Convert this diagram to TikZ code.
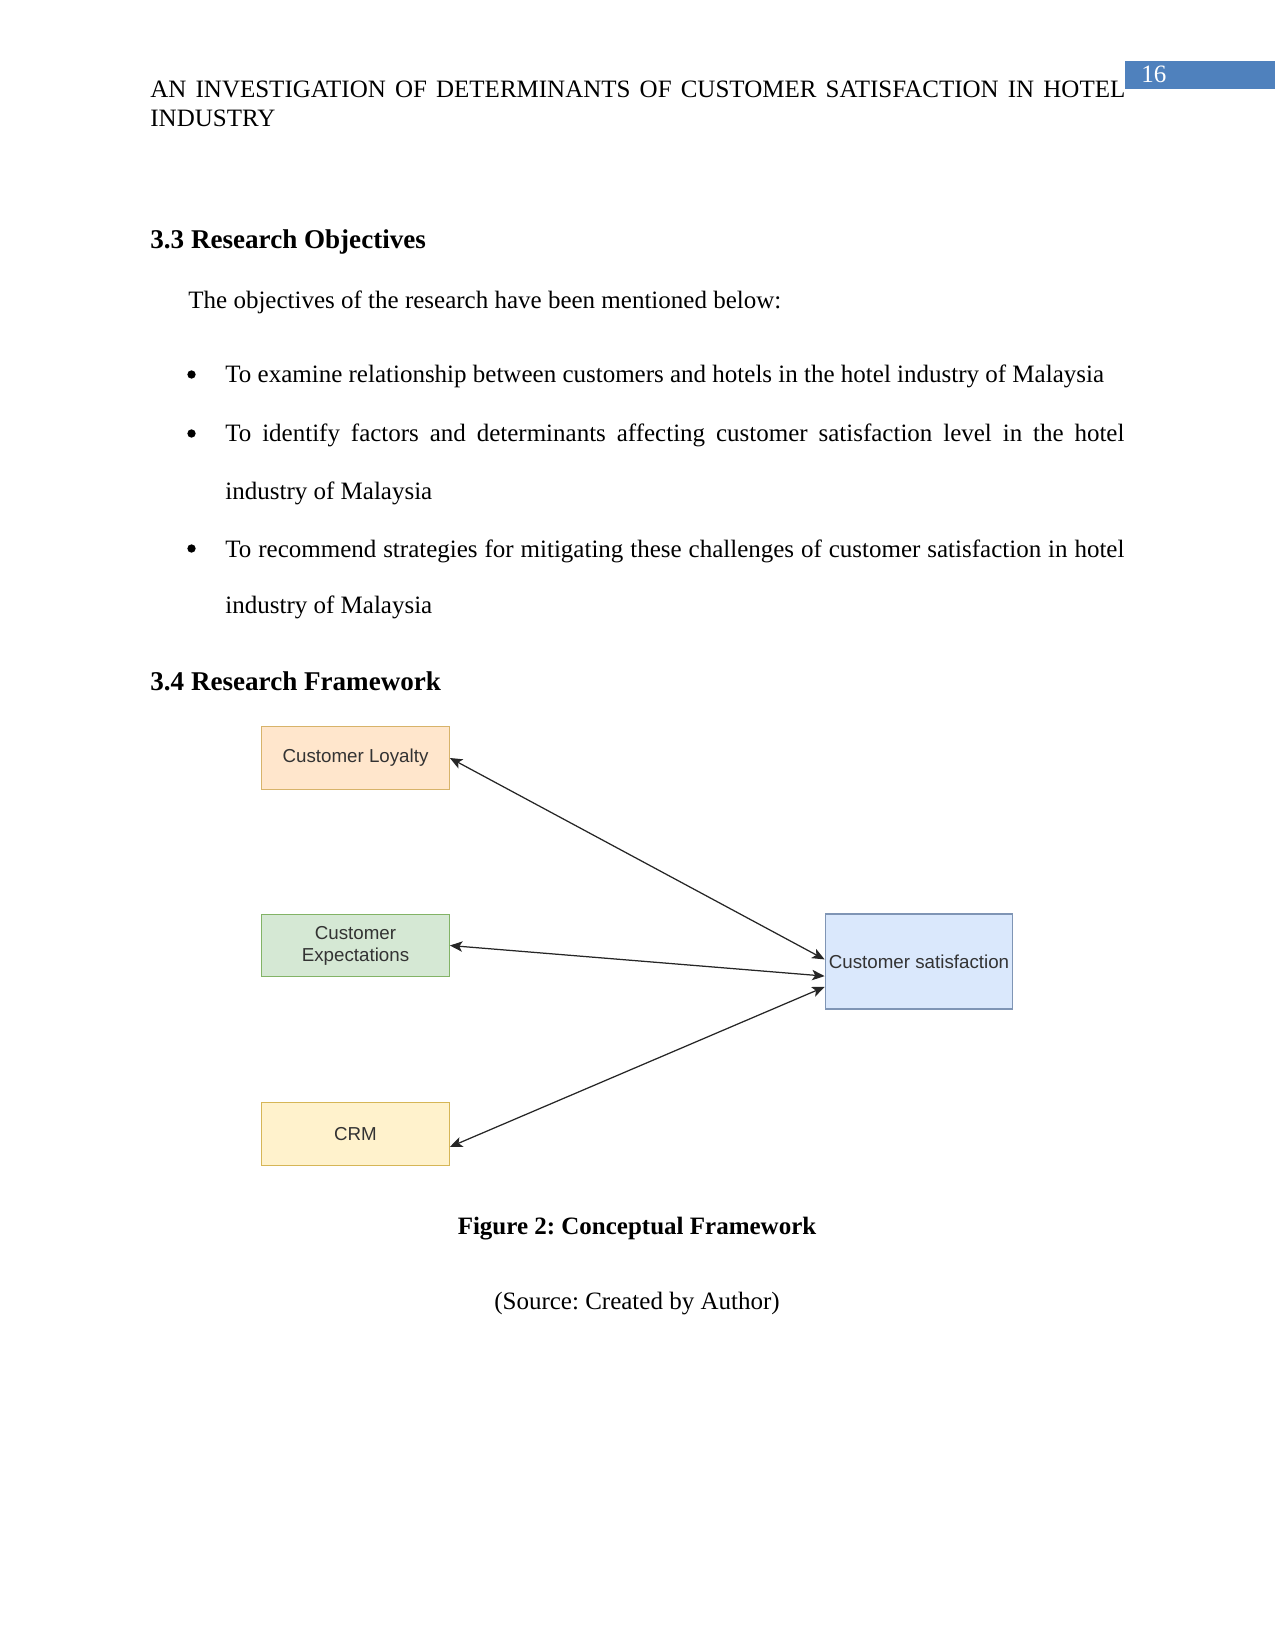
\documentclass[tikz,border=0pt]{standalone}
\usepackage{fontspec}
\setmainfont{Liberation Serif}
\newfontfamily\diagfont{Liberation Sans}
\usetikzlibrary{positioning,arrows.meta}
\definecolor{hdrblue}{HTML}{4F81BD}
\definecolor{orfill}{HTML}{FFE6CC}\definecolor{ordraw}{HTML}{D7B36A}
\definecolor{grfill}{HTML}{D5E8D4}\definecolor{grdraw}{HTML}{82B366}
\definecolor{yefill}{HTML}{FFF2CC}\definecolor{yedraw}{HTML}{D6B656}
\definecolor{blfill}{HTML}{DAE8FC}\definecolor{bldraw}{HTML}{7F95B5}
\definecolor{boxtext}{HTML}{333333}
\newcommand{\bodyfont}{\fontsize{12}{14}\selectfont}
\newcommand{\headfont}{\fontsize{13}{15}\selectfont\bfseries}
\frenchspacing
\begin{document}
\begin{tikzpicture}[x=0.48pt,y=-0.48pt,
  txt/.style={anchor=base west,inner sep=0pt,font=\bodyfont},
  dot/.style={circle,fill=black,inner sep=0pt,minimum size=4pt},
  box/.style={rectangle,draw,line width=0.6pt,minimum width=90pt,minimum height=30pt,
    inner sep=1pt,align=center,text=boxtext,font=\diagfont\fontsize{9}{10.5}\selectfont},
  link/.style={<->,line width=0.6pt,draw=black!85},
  >={Stealth[length=6pt,width=5pt,inset=1.5pt]}]
\useasboundingbox (0,0) rectangle (1275,1650);
% header
\fill[hdrblue] (1125,61) rectangle (1275,89);
\node[txt,text=white] (pagenum) at (1141,83) {16};
\node[txt] (head1) at (150,98) {\makebox[468pt][s]{AN INVESTIGATION OF DETERMINANTS OF CUSTOMER SATISFACTION IN HOTEL}};
\node[txt] (head2) at (150,127) {INDUSTRY};
% objectives
\node[txt,font=\headfont] (sec33) at (150,249) {3.3 Research Objectives};
\node[txt] (intro) at (188,309) {The objectives of the research have been mentioned below:};
\node[dot] (b1) at (191.5,374.5) {};
\node[txt] (obj1) at (225,383) {To examine relationship between customers and hotels in the hotel industry of Malaysia};
\node[dot] (b2) at (191.5,433.5) {};
\node[txt] (obj2a) at (225,442) {\makebox[431.5pt][s]{To identify factors and determinants affecting customer satisfaction level in the hotel}};
\node[txt] (obj2b) at (225,499) {industry of Malaysia};
\node[dot] (b3) at (191.5,548.5) {};
\node[txt] (obj3a) at (225,557) {\makebox[431.5pt][s]{To recommend strategies for mitigating these challenges of customer satisfaction in hotel}};
\node[txt] (obj3b) at (225,613) {industry of Malaysia};
\node[txt,font=\headfont] (sec34) at (150,690) {3.4 Research Framework};
% framework
\node[box,fill=orfill,draw=ordraw] (loyalty) at (355.5,758) {Customer Loyalty};
\node[box,fill=grfill,draw=grdraw] (expect) at (355.5,945.5) {Customer\\Expectations};
\node[box,fill=yefill,draw=yedraw] (crm) at (355.5,1134) {CRM};
\node[box,fill=blfill,draw=bldraw,minimum height=45.6pt] (satis) at (919,961.5) {Customer satisfaction};
\draw[link] (loyalty.east) -- ([yshift=1pt]satis.west);
\draw[link] (expect.east) -- ([yshift=-7pt]satis.west);
\draw[link] ([yshift=-6.2pt]crm.east) -- ([yshift=-12.2pt]satis.west);
% caption
\node[txt,anchor=base,font=\bodyfont\bfseries] (caption) at (637,1234) {Figure 2: Conceptual Framework};
\node[txt,anchor=base] (source) at (637,1309) {(Source: Created by Author)};
\end{tikzpicture}
\end{document}
